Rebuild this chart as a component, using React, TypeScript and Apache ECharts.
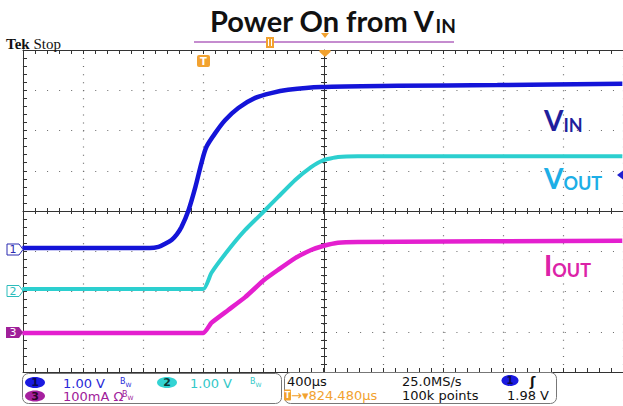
import React, { useEffect, useRef } from "react";
import * as echarts from "echarts";

// Horizontal: 400 µs/div, trigger delay 824.48 µs (time relative to trigger)
const horizScaleUs = 400;
const triggerDelayUs = 824.48;

// CH1 V_IN (1.00 V/div)
const vinTimeUs = [-1180, -330, -272, -230, -185, -150, -119, -72, -26, 14, 47, 107, 173, 260, 373, 479, 592, 811, 1323, 1987, 2820];
const vinVolts = [0, 0, 0.03, 0.1, 0.2, 0.34, 0.52, 0.94, 1.52, 2.11, 2.51, 2.86, 3.18, 3.48, 3.73, 3.85, 3.93, 4.0, 4.03, 4.05, 4.08];

// CH2 V_OUT (1.00 V/div) and CH3 I_OUT (100 mA/div)
const outTimeUs = [-1180, 27, 80, 193, 306, 433, 526, 639, 745, 825, 924, 1057, 2820];
const voutVolts = [0, 0, 0.4, 0.97, 1.47, 1.94, 2.29, 2.71, 3.03, 3.2, 3.28, 3.3, 3.3];
const ioutMilliAmps = [0, 0, 25, 57, 89, 132, 157, 186, 206, 216, 224, 226, 229];

// Channel scales (units per division) and vertical offsets (divisions)
const ch1VoltsPerDiv = 1;
const ch2VoltsPerDiv = 1;
const ch3MilliAmpsPerDiv = 100;
const ch1OffsetDiv = -0.92;
const ch2OffsetDiv = -1.94;
const ch3OffsetDiv = -3.03;

const ORANGE = "#f2a230";
const SANS = "DejaVu Sans";

function toScreen(times: number[], vals: number[], perDiv: number, offset: number) {
  return times.map((t, i) => [t, vals[i] / perDiv + offset]);
}

export default function App() {
  const ref = useRef<HTMLDivElement>(null);
  useEffect(() => {
    if (!ref.current) return;
    const chart = echarts.init(ref.current, null, { renderer: "svg" });
    const gL = 23, gT = 50, gW = 602, gH = 322;
    const frameAxis = {
      type: "value",
      min: 0,
      max: 10,
      interval: 1,
      axisLine: { show: true, onZero: false, lineStyle: { color: "#333", width: 1 } },
      axisTick: { show: true, inside: true, length: 4, lineStyle: { color: "#333" } },
      minorTick: { show: true, splitNumber: 5, length: 4, lineStyle: { color: "#333" } },
      axisLabel: { show: false },
    };
    const yFrame = {
      type: "value",
      min: -4,
      max: 4,
      interval: 1,
      axisLine: { show: true, onZero: false, lineStyle: { color: "#333", width: 1 } },
      axisTick: { show: true, inside: true, length: 4, lineStyle: { color: "#333" } },
      minorTick: { show: true, splitNumber: 5, length: 4, lineStyle: { color: "#333" } },
      axisLabel: { show: false },
    };
    const hidden = (gi: number, min: number, max: number) => ({
      type: "value", gridIndex: gi, min, max, show: false,
    });
    const centerTick = { show: true, inside: true, length: 3, lineStyle: { color: "#333" } };
    const centerMinor = { show: true, splitNumber: 5, length: 3, lineStyle: { color: "#333" } };

    const dataMin = triggerDelayUs - 5 * horizScaleUs;
    const dataMax = triggerDelayUs + 5 * horizScaleUs;

    const label = (x: number, y: number, main: string, sub: string, color: string) => ({
      type: "text", x, y, z: 10,
      style: {
        text: `{a|${main}}{b|${sub}}`,
        rich: {
          a: { fontSize: 28, fontWeight: "bold", fontFamily: "Lato", fill: color, lineHeight: 28, verticalAlign: "bottom" },
          b: { fontSize: 18, fontWeight: "bold", fontFamily: "Lato", fill: color, lineHeight: 13, verticalAlign: "bottom" },
        },
      },
    });
    const bw = (x: number, y: number, color: string) => ({
      type: "text", z: 11, x, y,
      style: {
        text: "{b|B}{w|W}", verticalAlign: "middle",
        rich: {
          b: { fontSize: 8, fontFamily: SANS, fill: color, verticalAlign: "top", lineHeight: 10 },
          w: { fontSize: 6, fontFamily: SANS, fill: color, verticalAlign: "bottom", lineHeight: 10 },
        },
      },
    });
    const txt = (x: number, y: number, text: string, fill: string) => ({
      type: "text", z: 11, x, y,
      style: { text, fontSize: 13, fontFamily: SANS, fill, verticalAlign: "middle" },
    });

    const option: any = {
      animation: false,
      backgroundColor: "#fff",
      grid: [
        { left: gL, top: gT, width: gW, height: gH },
        { left: gL, top: gT, width: gW, height: gH / 2 },
        { left: gL, top: gT + gH / 2, width: gW, height: gH / 2 },
        { left: gL, top: gT, width: gW / 2, height: gH },
        { left: gL + gW / 2, top: gT, width: gW / 2, height: gH },
      ],
      xAxis: [
        {
          ...frameAxis, gridIndex: 0, position: "bottom",
          splitLine: { show: true, lineStyle: { color: "#6a6a6a", type: [1, 7.05], width: 1.2 } },
        },
        { ...frameAxis, gridIndex: 0, position: "top", splitLine: { show: false } },
        { type: "value", gridIndex: 0, min: dataMin, max: dataMax, show: false },
        {
          type: "value", gridIndex: 1, position: "bottom", min: 0, max: 10, interval: 1,
          axisLine: { show: true, onZero: false, lineStyle: { color: "#333" } },
          axisTick: centerTick, minorTick: centerMinor, axisLabel: { show: false }, splitLine: { show: false },
        },
        {
          type: "value", gridIndex: 2, position: "top", min: 0, max: 10, interval: 1,
          axisLine: { show: false, onZero: false },
          axisTick: centerTick, minorTick: centerMinor, axisLabel: { show: false }, splitLine: { show: false },
        },
        hidden(3, 0, 1),
        hidden(4, 0, 1),
      ],
      yAxis: [
        {
          ...yFrame, gridIndex: 0, position: "left",
          splitLine: { show: true, lineStyle: { color: "#6a6a6a", type: [1, 11.04], width: 1.2 } },
        },
        hidden(1, 0, 1),
        hidden(2, 0, 1),
        {
          type: "value", gridIndex: 3, position: "right", min: -4, max: 4, interval: 1,
          axisLine: { show: true, onZero: false, lineStyle: { color: "#333" } },
          axisTick: centerTick, minorTick: centerMinor, axisLabel: { show: false }, splitLine: { show: false },
        },
        {
          type: "value", gridIndex: 4, position: "left", min: -4, max: 4, interval: 1,
          axisLine: { show: false, onZero: false },
          axisTick: centerTick, minorTick: centerMinor, axisLabel: { show: false }, splitLine: { show: false },
        },
      ],
      series: [
        {
          name: "IOUT", type: "line", xAxisIndex: 2, yAxisIndex: 0, showSymbol: false, clip: true,
          smooth: 0.15,
          lineStyle: { color: "#e41fcf", width: 4.5 },
          data: toScreen(outTimeUs, ioutMilliAmps, ch3MilliAmpsPerDiv, ch3OffsetDiv),
        },
        {
          name: "VOUT", type: "line", xAxisIndex: 2, yAxisIndex: 0, showSymbol: false, clip: true,
          smooth: 0.15,
          lineStyle: { color: "#2ccfcf", width: 4 },
          data: toScreen(outTimeUs, voutVolts, ch2VoltsPerDiv, ch2OffsetDiv),
        },
        {
          name: "VIN", type: "line", xAxisIndex: 2, yAxisIndex: 0, showSymbol: false, clip: true,
          smooth: 0.3,
          lineStyle: { color: "#1414d8", width: 4.5 },
          data: toScreen(vinTimeUs, vinVolts, ch1VoltsPerDiv, ch1OffsetDiv),
        },
      ],
      graphic: [
        // Title
        {
          type: "text", x: 210, y: 2, z: 10,
          style: {
            text: "{a|Power On from V}{b|IN}",
            rich: {
              a: { fontSize: 29, fontWeight: "bold", fontFamily: "Lato", fill: "#111", lineHeight: 33, verticalAlign: "bottom" },
              b: { fontSize: 19, fontWeight: "bold", fontFamily: "Lato", fill: "#111", lineHeight: 14, verticalAlign: "bottom" },
            },
          },
        },
        // Tek Stop
        {
          type: "text", x: 6, y: 35, z: 10,
          style: {
            text: "{t|Tek}{s| Stop}",
            rich: {
              t: { fontSize: 15, fontWeight: "bold", fontFamily: "Liberation Serif", fill: "#111", lineHeight: 16, verticalAlign: "bottom" },
              s: { fontSize: 15, fontFamily: "Liberation Serif", fill: "#111", lineHeight: 16, verticalAlign: "bottom" },
            },
          },
        },
        // Record view line
        { type: "line", z: 10, shape: { x1: 194, y1: 42, x2: 454, y2: 42 }, style: { stroke: "#c58ccf", lineWidth: 2 } },
        { type: "rect", z: 11, shape: { x: 266, y: 37, width: 8, height: 11 }, style: { fill: ORANGE } },
        { type: "line", z: 12, shape: { x1: 268.5, y1: 39, x2: 268.5, y2: 46 }, style: { stroke: "#fff", lineWidth: 1 } },
        { type: "line", z: 12, shape: { x1: 271.5, y1: 39, x2: 271.5, y2: 46 }, style: { stroke: "#fff", lineWidth: 1 } },
        { type: "polygon", z: 11, shape: { points: [[321, 33], [329, 33], [325, 38]] }, style: { fill: ORANGE } },
        // Expansion point marker
        { type: "polygon", z: 11, shape: { points: [[319.5, 50], [330.5, 50], [330.5, 52], [325, 57], [319.5, 52]] }, style: { fill: ORANGE } },
        // Trigger position marker
        { type: "rect", z: 11, shape: { x: 197, y: 55, width: 13, height: 12, r: 2 }, style: { fill: ORANGE } },
        {
          type: "text", z: 12, x: 203.5, y: 61.5,
          style: { text: "T", fontSize: 10, fontWeight: "bold", fontFamily: SANS, fill: "#fff", align: "center", verticalAlign: "middle" },
        },
        // Channel ground markers
        { type: "polygon", z: 11, shape: { points: [[7, 244], [19, 244], [23, 249.5], [19, 255], [7, 255]] }, style: { fill: "#fff", stroke: "#2a2ab0", lineWidth: 1 } },
        { type: "text", z: 12, x: 13, y: 249.5, style: { text: "1", fontSize: 11, fontFamily: SANS, fill: "#2a2ab0", align: "center", verticalAlign: "middle" } },
        { type: "polygon", z: 11, shape: { points: [[7, 285.5], [19, 285.5], [23, 291], [19, 296.5], [7, 296.5]] }, style: { fill: "#fff", stroke: "#2cbcbc", lineWidth: 1 } },
        { type: "text", z: 12, x: 13, y: 291, style: { text: "2", fontSize: 11, fontFamily: SANS, fill: "#2cbcbc", align: "center", verticalAlign: "middle" } },
        { type: "polygon", z: 11, shape: { points: [[6, 327], [19, 327], [23, 332.5], [19, 338], [6, 338]] }, style: { fill: "#a0209a" } },
        { type: "text", z: 12, x: 13, y: 332.5, style: { text: "3", fontSize: 11, fontFamily: SANS, fill: "#fff", align: "center", verticalAlign: "middle" } },
        // Trigger level marker
        { type: "polygon", z: 11, shape: { points: [[617, 175], [623, 170.5], [623, 179.5]] }, style: { fill: "#2020d0" } },
        // Trace labels
        label(544, 106, "V", "IN", "#1f1f9c"),
        label(544, 164, "V", "OUT", "#1daee6"),
        label(544, 251, "I", "OUT", "#dc22a8"),
        // Status bar boxes
        { type: "rect", z: 10, shape: { x: 22.5, y: 373.5, width: 259, height: 30, r: 6 }, style: { fill: "#fff", stroke: "#777", lineWidth: 1 } },
        { type: "rect", z: 10, shape: { x: 284.5, y: 372.5, width: 272, height: 31, r: 6 }, style: { fill: "#fff", stroke: "#777", lineWidth: 1 } },
        // Left box row 1
        { type: "ellipse", z: 11, shape: { cx: 35, cy: 382.5, rx: 10, ry: 5.5 }, style: { fill: "#1a1ae0" } },
        { type: "text", z: 12, x: 35, y: 382.5, style: { text: "1", fontSize: 11, fontWeight: "bold", fontFamily: SANS, fill: "#0a0a50", align: "center", verticalAlign: "middle" } },
        txt(63, 383, "1.00 V", "#2828d8"),
        bw(120, 382, "#2828d8"),
        { type: "ellipse", z: 11, shape: { cx: 167, cy: 382.5, rx: 10, ry: 5.5 }, style: { fill: "#33d3d3" } },
        { type: "text", z: 12, x: 167, y: 382.5, style: { text: "2", fontSize: 11, fontWeight: "bold", fontFamily: SANS, fill: "#0a3a3a", align: "center", verticalAlign: "middle" } },
        txt(190, 383, "1.00 V", "#33c8c8"),
        bw(250, 382, "#33c8c8"),
        // Left box row 2
        { type: "ellipse", z: 11, shape: { cx: 35, cy: 396, rx: 10, ry: 5.5 }, style: { fill: "#a6209f" } },
        { type: "text", z: 12, x: 35, y: 396, style: { text: "3", fontSize: 11, fontWeight: "bold", fontFamily: SANS, fill: "#2a0428", align: "center", verticalAlign: "middle" } },
        txt(63, 396.5, "100mA Ω", "#a0209a"),
        bw(122, 395.5, "#a0209a"),
        // Right box row 1
        txt(287, 381, "400µs", "#111"),
        txt(402, 381, "25.0MS/s", "#111"),
        { type: "ellipse", z: 11, shape: { cx: 510, cy: 380.5, rx: 8.5, ry: 5.5 }, style: { fill: "#1a1ae0" } },
        { type: "text", z: 12, x: 510, y: 380.5, style: { text: "1", fontSize: 10, fontWeight: "bold", fontFamily: SANS, fill: "#0a0a50", align: "center", verticalAlign: "middle" } },
        { type: "text", z: 11, x: 530, y: 381, style: { text: "ʃ", fontSize: 13, fontWeight: "bold", fontFamily: SANS, fill: "#111", verticalAlign: "middle" } },
        // Right box row 2
        { type: "rect", z: 11, shape: { x: 284, y: 389.5, width: 7, height: 11, r: 1 }, style: { fill: ORANGE } },
        { type: "text", z: 12, x: 287.5, y: 395, style: { text: "T", fontSize: 8, fontWeight: "bold", fontFamily: SANS, fill: "#fff", align: "center", verticalAlign: "middle" } },
        txt(291, 395.5, "→▾824.480µs", ORANGE),
        txt(402, 395.5, "100k points", "#111"),
        txt(507, 395.5, "1.98 V", "#111"),
      ],
    };
    chart.setOption(option);
    return () => chart.dispose();
  }, []);
  return (
    <div
      ref={ref}
      style={{ position: "fixed", left: 0, top: 0, width: 623, height: 406, background: "#fff" }}
    />
  );
}
